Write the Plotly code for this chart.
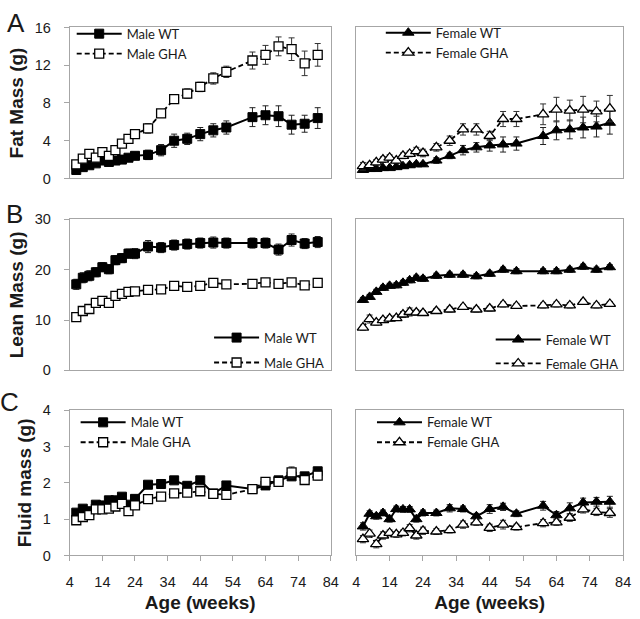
import plotly.graph_objects as go

weeks = [6, 8, 10, 12, 14, 16, 18, 20, 22, 24, 28, 32, 36, 40, 44, 48, 52, 60, 64, 68, 72, 76, 80]

# Fat mass
fat_m_wt = [0.9, 1.2, 1.4, 1.6, 1.9, 1.75, 1.9, 2.0, 2.2, 2.4, 2.5, 3.0, 4.0, 4.2, 4.7, 5.1, 5.4, 6.5, 6.7, 6.6, 5.7, 5.8, 6.4]
fat_m_wt_err = [0.2, 0.2, 0.2, 0.2, 0.2, 0.2, 0.2, 0.3, 0.3, 0.3, 0.5, 0.6, 0.7, 0.6, 0.7, 0.7, 0.7, 1.0, 1.0, 1.1, 1.0, 0.9, 1.1]
fat_m_gha = [1.5, 2.1, 2.6, 2.2, 2.8, 2.4, 3.0, 3.7, 4.2, 4.7, 5.3, 6.9, 8.4, 9.0, 9.7, 10.6, 11.3, 12.5, 13.1, 14.0, 13.7, 12.2, 13.1]
fat_m_gha_err = [0.3, 0.3, 0.3, 0.3, 0.3, 0.3, 0.3, 0.3, 0.3, 0.4, 0.5, 0.3, 0.4, 0.5, 0.5, 0.6, 0.6, 0.9, 1.0, 1.0, 1.2, 1.3, 1.2]
fat_f_wt = [0.9, 1.0, 1.0, 1.1, 1.1, 1.2, 1.3, 1.4, 1.5, 1.5, 1.9, 2.4, 3.0, 3.3, 3.5, 3.6, 3.7, 4.5, 5.1, 5.2, 5.4, 5.5, 5.9]
fat_f_wt_err = [0.1, 0.1, 0.1, 0.1, 0.1, 0.2, 0.2, 0.2, 0.2, 0.2, 0.3, 0.3, 0.5, 0.5, 0.6, 0.8, 0.7, 0.9, 1.0, 1.0, 1.1, 1.1, 1.2]
fat_f_gha = [1.3, 1.4, 1.7, 2.0, 2.2, 1.9, 2.4, 2.6, 2.9, 2.7, 3.3, 4.0, 5.2, 5.2, 4.5, 6.3, 6.3, 6.8, 7.3, 7.2, 7.3, 7.1, 7.4]
fat_f_gha_err = [0.4, 0.3, 0.3, 0.3, 0.3, 0.3, 0.3, 0.3, 0.4, 0.4, 0.4, 0.5, 0.6, 0.6, 0.5, 0.8, 0.8, 1.1, 1.3, 1.1, 1.4, 1.1, 1.4]

# Lean mass
lean_m_wt = [17.1, 18.4, 18.8, 19.5, 20.5, 20.1, 21.9, 22.3, 23.2, 23.2, 24.6, 24.4, 24.9, 25.1, 25.3, 25.4, 25.3, 25.3, 25.3, 24.0, 25.9, 25.2, 25.5]
lean_m_wt_err = [1.0, 1.0, 1.0, 0.9, 0.9, 0.9, 0.9, 0.9, 0.9, 1.0, 1.2, 1.0, 1.0, 1.0, 1.0, 1.1, 1.0, 1.0, 1.0, 1.1, 1.2, 1.0, 1.1]
lean_m_gha = [10.6, 11.8, 12.2, 13.4, 13.8, 13.4, 14.8, 15.2, 15.6, 15.7, 16.0, 16.1, 16.8, 16.6, 16.8, 17.4, 17.1, 17.2, 17.5, 17.2, 17.5, 16.9, 17.4]
lean_m_gha_err = [0.4, 0.4, 0.4, 0.4, 0.4, 0.4, 0.4, 0.4, 0.4, 0.4, 0.4, 0.4, 0.4, 0.4, 0.4, 0.4, 0.4, 0.4, 0.4, 0.4, 0.4, 0.4, 0.4]
lean_f_wt = [14.0, 14.6, 15.6, 16.4, 16.8, 16.9, 17.4, 17.9, 18.4, 18.2, 18.8, 19.0, 19.0, 18.7, 19.2, 20.0, 19.7, 19.7, 19.7, 20.0, 20.6, 20.0, 20.5]
lean_f_wt_err = [0.5, 0.5, 0.5, 0.5, 0.5, 0.5, 0.5, 0.5, 0.5, 0.5, 0.5, 0.5, 0.5, 0.5, 0.5, 0.5, 0.5, 0.5, 0.5, 0.5, 0.5, 0.5, 0.5]
lean_f_gha = [8.5, 10.2, 9.5, 10.0, 10.3, 10.4, 11.1, 11.6, 11.5, 11.4, 11.8, 12.1, 12.6, 12.1, 12.3, 13.1, 12.8, 12.9, 13.1, 12.9, 13.6, 12.9, 13.2]
lean_f_gha_err = [0.5, 0.8, 0.5, 0.5, 0.5, 0.5, 0.6, 0.8, 0.5, 0.5, 0.5, 0.5, 0.5, 0.5, 0.5, 0.5, 0.5, 0.5, 0.5, 0.5, 0.5, 0.5, 0.5]

# Fluid mass
fluid_m_wt = [1.18, 1.29, 1.22, 1.40, 1.38, 1.52, 1.52, 1.62, 1.40, 1.56, 1.95, 1.97, 2.07, 1.92, 2.07, 1.71, 1.93, 1.83, 1.93, 2.07, 2.18, 2.18, 2.32]
fluid_m_wt_err = [0.06, 0.06, 0.06, 0.06, 0.06, 0.06, 0.06, 0.06, 0.06, 0.06, 0.08, 0.06, 0.06, 0.06, 0.06, 0.06, 0.06, 0.06, 0.06, 0.06, 0.1, 0.06, 0.1]
fluid_m_gha = [0.97, 1.06, 1.11, 1.27, 1.27, 1.29, 1.35, 1.42, 1.22, 1.38, 1.55, 1.62, 1.71, 1.73, 1.77, 1.70, 1.67, 1.83, 2.03, 2.03, 2.29, 2.08, 2.20]
fluid_m_gha_err = [0.06, 0.06, 0.06, 0.06, 0.06, 0.06, 0.06, 0.06, 0.06, 0.06, 0.06, 0.06, 0.06, 0.06, 0.06, 0.06, 0.06, 0.06, 0.06, 0.08, 0.15, 0.08, 0.12]
fluid_f_wt = [0.80, 1.15, 1.08, 1.17, 1.00, 1.28, 1.27, 1.27, 1.00, 1.17, 1.17, 1.30, 1.28, 1.08, 1.28, 1.34, 1.15, 1.37, 1.11, 1.30, 1.46, 1.48, 1.48]
fluid_f_wt_err = [0.1, 0.08, 0.08, 0.08, 0.08, 0.08, 0.08, 0.08, 0.08, 0.08, 0.08, 0.1, 0.08, 0.08, 0.12, 0.1, 0.08, 0.12, 0.1, 0.15, 0.12, 0.12, 0.15]
fluid_f_gha = [0.45, 0.60, 0.31, 0.55, 0.62, 0.58, 0.62, 0.75, 0.55, 0.68, 0.66, 0.70, 0.85, 0.91, 0.76, 0.85, 0.78, 0.89, 0.91, 1.04, 1.27, 1.20, 1.17]
fluid_f_gha_err = [0.1, 0.1, 0.1, 0.1, 0.08, 0.08, 0.08, 0.1, 0.1, 0.1, 0.08, 0.08, 0.1, 0.08, 0.1, 0.12, 0.08, 0.1, 0.08, 0.1, 0.1, 0.1, 0.12]

x_ticks = [4, 14, 24, 34, 44, 54, 64, 74, 84]
fat_ticks = [0, 4, 8, 12, 16]
lean_ticks = [0, 10, 20, 30]
fluid_ticks = [0, 1, 2, 3, 4]

fig = go.Figure()


def add_pair(xa, ya, legend, wt, wt_err, gha, gha_err, wt_name, gha_name, symbol):
    ms = 9 if symbol == "square" else 10
    fig.add_trace(go.Scatter(
        x=weeks, y=wt, xaxis=xa, yaxis=ya, name=wt_name, legend=legend, legendgroup=legend + "a",
        mode="lines+markers",
        line=dict(color="black", width=2),
        marker=dict(symbol=symbol, size=ms, color="black", line=dict(color="black", width=1)),
        error_y=dict(type="data", array=wt_err, color="#222", thickness=1, width=3),
    ))
    fig.add_trace(go.Scatter(
        x=weeks, y=gha, xaxis=xa, yaxis=ya, name=gha_name, legend=legend, legendgroup=legend + "b",
        mode="lines+markers",
        line=dict(color="black", width=1.8, dash="5px,3px"),
        marker=dict(symbol=symbol, size=ms, color="white", line=dict(color="black", width=1.3)),
        error_y=dict(type="data", array=gha_err, color="#333", thickness=1, width=3),
    ))


add_pair("x", "y", "legend", fat_m_wt, fat_m_wt_err, fat_m_gha, fat_m_gha_err, "Male WT", "Male GHA", "square")
add_pair("x2", "y2", "legend2", fat_f_wt, fat_f_wt_err, fat_f_gha, fat_f_gha_err, "Female WT", "Female GHA", "triangle-up")
add_pair("x3", "y3", "legend3", lean_m_wt, lean_m_wt_err, lean_m_gha, lean_m_gha_err, "Male WT", "Male GHA", "square")
add_pair("x4", "y4", "legend4", lean_f_wt, lean_f_wt_err, lean_f_gha, lean_f_gha_err, "Female WT", "Female GHA", "triangle-up")
add_pair("x5", "y5", "legend5", fluid_m_wt, fluid_m_wt_err, fluid_m_gha, fluid_m_gha_err, "Male WT", "Male GHA", "square")
add_pair("x6", "y6", "legend6", fluid_f_wt, fluid_f_wt_err, fluid_f_gha, fluid_f_gha_err, "Female WT", "Female GHA", "triangle-up")

W, H = 640, 619
left_dom = [67 / W, 333 / W]
right_dom = [359 / W, 631 / W]
rows = [[1 - 175 / H, 1 - 20 / H], [1 - 372 / H, 1 - 217 / H], [1 - 562 / H, 1 - 413 / H]]

frame = "#A6A6A6"
tick_font = dict(family="Liberation Sans, Arial", size=14.5, color="#1a1a1a")
title_font = dict(family="Liberation Sans, Arial", size=19, color="#1a1a1a")


def xaxis_cfg(dom, anchor, bottom):
    cfg = dict(domain=dom, anchor=anchor, range=[4, 84], showgrid=False, zeroline=False,
               showline=True, linecolor=frame, linewidth=1, mirror=True, tickvals=x_ticks,
               fixedrange=True)
    if bottom:
        cfg.update(ticks="outside", ticklen=5, tickcolor=frame, showticklabels=True, tickfont=tick_font,
                   ticklabelstandoff=8,
                   title=dict(text="<b>Age (weeks)</b>", font=dict(family="Liberation Sans, Arial", size=19, color="#1a1a1a"), standoff=6))
    else:
        cfg.update(ticks="", showticklabels=False)
    return cfg


def yaxis_cfg(dom, anchor, rng, tv, title, left):
    cfg = dict(domain=dom, anchor=anchor, range=rng, tickvals=tv, showgrid=False, zeroline=False,
               showline=True, linecolor=frame, linewidth=1, mirror=True, fixedrange=True)
    if left:
        cfg.update(ticks="outside", ticklen=5, tickcolor=frame, tickfont=tick_font, ticklabelstandoff=10,
                   title=dict(text="<b>" + title + "</b>", font=title_font, standoff=6))
    else:
        cfg.update(ticks="", showticklabels=False)
    return cfg


fig.update_layout(
    width=W, height=H, plot_bgcolor="white", paper_bgcolor="white",
    margin=dict(l=0, r=0, t=0, b=0), autosize=False,
    xaxis=xaxis_cfg(left_dom, "y", False),
    xaxis2=xaxis_cfg(right_dom, "y2", False),
    xaxis3=xaxis_cfg(left_dom, "y3", False),
    xaxis4=xaxis_cfg(right_dom, "y4", False),
    xaxis5=xaxis_cfg(left_dom, "y5", True),
    xaxis6=xaxis_cfg(right_dom, "y6", True),
    yaxis=yaxis_cfg(rows[0], "x", [0, 16], fat_ticks, "Fat Mass (g)", True),
    yaxis2=yaxis_cfg(rows[0], "x2", [0, 16], fat_ticks, "", False),
    yaxis3=yaxis_cfg(rows[1], "x3", [0, 30], lean_ticks, "Lean Mass (g)", True),
    yaxis4=yaxis_cfg(rows[1], "x4", [0, 30], lean_ticks, "", False),
    yaxis5=yaxis_cfg(rows[2], "x5", [0, 4], fluid_ticks, "Fluid mass (g)", True),
    yaxis6=yaxis_cfg(rows[2], "x6", [0, 4], fluid_ticks, "", False),
)

leg_font = dict(family="Lato, Open Sans, sans-serif", size=13, color="#1a1a1a")


def leg(xpx, ypx, gap):
    return dict(x=xpx / W, y=1 - ypx / H, xanchor="left", yanchor="top", bgcolor="rgba(0,0,0,0)",
                font=leg_font, itemwidth=45, tracegroupgap=gap, traceorder="grouped")


fig.update_layout(
    legend=leg(69, 11, 0),
    legend2=leg(384, 10, 0),
    legend3=leg(209, 323, 5),
    legend4=leg(496, 325, 4),
    legend5=leg(73, 410, 0),
    legend6=leg(375, 410, 0),
)

for txt, xpx, ypx in [("A", 12, 15), ("B", 11, 211), ("C", 6, 404)]:
    fig.add_annotation(text=txt, x=xpx / W, y=1 - ypx / H,
                       xref="paper", yref="paper", showarrow=False,
                       font=dict(family="Liberation Sans, Arial", size=26, color="#1a1a1a"),
                       xanchor="center", yanchor="middle")

fig.write_html("out.html", config={"displayModeBar": False},
               post_script="document.body.style.margin='0';document.body.style.padding='0';document.documentElement.style.overflow='hidden';")
